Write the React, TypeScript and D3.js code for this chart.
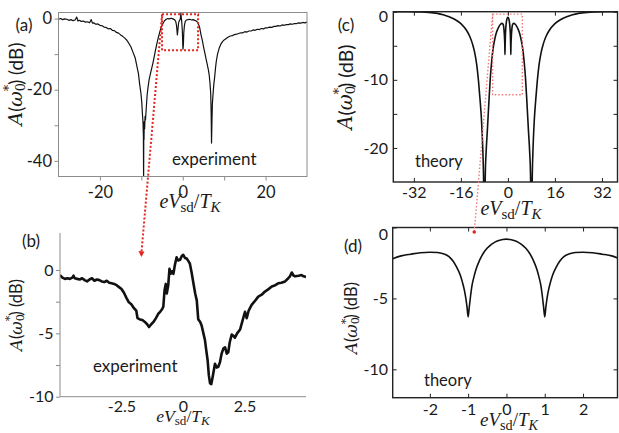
import { useEffect, useRef } from "react";
import * as d3 from "d3";

type Pt = [number, number];

// (a) measured spectrum over the full bias sweep  [eV/T_K, dB]
const expFull: Pt[] = [
  [-30, -0.2], [-29.5, 0.0], [-29, -0.3], [-28.5, -0.1], [-28, -0.2], [-27.5, -0.5], [-27, -0.3],
  [-26.5, -0.6], [-26, -0.4], [-25.6, 0.4], [-25.3, -0.7], [-25, -0.5], [-24.5, -0.8], [-24, -0.7],
  [-23.5, -1.0], [-23, -0.9], [-22.5, -1.2], [-22.1, -0.3], [-21.8, -1.3], [-21.5, -1.2], [-21, -1.6],
  [-20.5, -1.5], [-20, -1.9], [-19.5, -2.0], [-19, -2.4], [-18.5, -2.5], [-18, -2.9], [-17.5, -2.8],
  [-17, -3.3], [-16.5, -3.4], [-16, -3.9], [-15.5, -4.1], [-15, -4.6], [-14.5, -5.0], [-14, -5.5],
  [-13.5, -6.1], [-13, -7.0], [-12.5, -8.0], [-12, -9.5], [-11.5, -11.0], [-11, -13.8], [-10.7, -15.5],
  [-10.4, -18.5], [-10.1, -21.0], [-9.9, -23.5], [-9.7, -27.5], [-9.6, -29.0], [-9.5, -33.0],
  [-9.45, -46], [-9.4, -30.0], [-9.35, -34.0], [-9.3, -29.0], [-9.2, -31.0], [-9.1, -27.5],
  [-9.0, -28.5], [-8.8, -25.0], [-8.6, -21.5], [-8.4, -19.5], [-8.1, -17.0], [-7.8, -15.5],
  [-7.5, -14.0], [-7.2, -12.5], [-6.9, -10.8], [-6.6, -9.0], [-6.3, -7.3], [-6.0, -5.8], [-5.6, -4.0],
  [-5.2, -2.5], [-4.8, -1.4], [-4.4, -0.6], [-4.0, -0.2], [-3.6, 0.0], [-3.2, -0.1], [-2.8, 0.1],
  [-2.4, -0.1], [-2.0, -0.3], [-1.7, -0.8], [-1.5, -2.0], [-1.3, -4.6], [-1.15, -3.0], [-1.0, -1.2],
  [-0.8, -0.5], [-0.6, -0.2], [-0.45, 1.5], [-0.35, 0.3], [-0.25, -0.8], [-0.1, -3.5], [0.05, -8.6],
  [0.15, -7.5], [0.25, -4.0], [0.4, -2.0], [0.6, -0.8], [0.9, -0.4], [1.3, -0.3], [1.7, -0.2],
  [2.1, -0.4], [2.5, -0.3], [2.9, -0.5], [3.3, -0.7], [3.7, -1.2], [4.1, -2.6], [4.4, -4.5],
  [4.7, -6.0], [5.0, -7.8], [5.3, -9.5], [5.6, -11.2], [5.9, -12.8], [6.2, -14.5], [6.4, -16.0],
  [6.6, -18.5], [6.75, -21.0], [6.85, -26.0], [6.95, -35.0], [7.05, -29.0], [7.15, -24.0],
  [7.3, -21.5], [7.5, -18.5], [7.7, -16.5], [7.9, -14.0], [8.1, -12.0], [8.4, -10.0], [8.8, -8.3],
  [9.2, -7.2], [9.6, -6.5], [10, -6.0], [10.5, -5.6], [11, -5.2], [11.5, -4.9], [12, -4.8],
  [12.5, -4.5], [13, -4.4], [13.5, -4.2], [14, -4.0], [14.5, -4.0], [15, -3.7], [15.5, -3.8],
  [16, -3.5], [16.5, -3.5], [17, -3.2], [17.5, -3.3], [18, -3.0], [18.5, -3.1], [19, -2.8],
  [19.5, -2.9], [20, -2.6], [20.5, -2.6], [21, -2.4], [21.5, -2.5], [22, -2.2], [22.5, -2.2],
  [23, -2.0], [23.5, -2.1], [24, -1.8], [24.5, -1.9], [25, -1.7], [25.5, -1.7], [26, -1.5],
  [26.5, -1.6], [27, -1.4], [27.5, -1.4], [28, -1.2], [28.5, -1.3], [29, -1.1], [29.5, -1.2], [30, -1.0],
];

// (b) measured spectrum, close-up of the centre
const expZoom: Pt[] = [
  [-5.0, -0.4], [-4.9, -0.6], [-4.8, -0.7], [-4.7, -0.65], [-4.6, -0.7], [-4.5, -0.6], [-4.45, -0.45],
  [-4.4, -0.65], [-4.3, -0.7], [-4.2, -0.75], [-4.1, -0.65], [-4.0, -0.8], [-3.9, -0.9], [-3.8, -0.75],
  [-3.7, -0.65], [-3.6, -0.85], [-3.5, -0.75], [-3.4, -0.8], [-3.3, -0.9], [-3.2, -0.95], [-3.1, -0.85],
  [-3.0, -1.0], [-2.9, -1.05], [-2.8, -1.1], [-2.7, -1.2], [-2.6, -1.35], [-2.5, -1.5], [-2.4, -1.8],
  [-2.3, -2.2], [-2.2, -2.55], [-2.1, -2.7], [-2.0, -3.0], [-1.9, -3.2], [-1.85, -3.8], [-1.75, -3.9],
  [-1.65, -3.95], [-1.55, -4.1], [-1.45, -4.3], [-1.38, -4.5], [-1.3, -4.3], [-1.2, -4.1], [-1.1, -3.8],
  [-1.0, -3.45], [-0.93, -3.3], [-0.85, -3.1], [-0.8, -2.9], [-0.75, -1.6], [-0.7, -1.1], [-0.66, -1.85],
  [-0.6, -1.2], [-0.55, 0.1], [-0.5, -0.3], [-0.45, -0.1], [-0.39, -0.3], [-0.33, 0.4], [-0.26, 1.0],
  [-0.2, 0.75], [-0.12, 0.8], [-0.05, 1.1], [0.01, 1.2], [0.08, 0.95], [0.15, 0.9], [0.22, 0.7],
  [0.28, 0.5], [0.35, -0.2], [0.42, -1.0], [0.5, -1.9], [0.56, -2.4], [0.62, -3.9], [0.7, -4.1],
  [0.76, -4.4], [0.83, -5.0], [0.89, -5.5], [0.95, -6.4], [1.0, -7.1], [1.05, -8.3], [1.1, -8.95],
  [1.15, -9.0], [1.2, -8.5], [1.3, -7.4], [1.37, -7.7], [1.43, -7.65], [1.5, -7.3], [1.57, -6.6],
  [1.64, -6.2], [1.71, -6.1], [1.78, -6.6], [1.84, -6.5], [1.9, -5.7], [1.98, -5.1], [2.05, -5.2],
  [2.11, -5.35], [2.2, -5.0], [2.32, -4.7], [2.42, -4.0], [2.52, -3.3], [2.59, -3.8], [2.67, -3.2],
  [2.79, -2.75], [2.9, -2.5], [3.06, -2.1], [3.2, -1.95], [3.33, -1.7], [3.45, -1.55], [3.61, -1.3],
  [3.75, -1.2], [3.87, -1.05], [4.0, -1.0], [4.15, -0.9], [4.28, -0.65], [4.35, -0.5], [4.42, -0.2],
  [4.5, -0.45], [4.55, -0.5], [4.7, -0.45], [4.82, -0.4], [4.9, -0.5], [5.0, -0.55],
];

// (c) theory, full sweep
const theoFull: Pt[] = [
  [-39, 0], [-34, -0.01], [-30, -0.04], [-27, -0.1], [-24, -0.25], [-22, -0.45], [-20, -0.75],
  [-18, -1.15], [-16, -1.75], [-14, -2.8], [-13, -3.6], [-12, -4.8], [-11.3, -6], [-10.6, -7.8],
  [-10, -10.2], [-9.5, -12.8], [-9, -15.8], [-8.6, -19.5], [-8.3, -24], [-8.0, -34], [-7.7, -24],
  [-7.4, -20.5], [-7.0, -17.5], [-6.5, -13.5], [-6.0, -9.8], [-5.5, -7.2], [-5.0, -5.3], [-4.5, -4.1],
  [-4.0, -3.2], [-3.5, -2.6], [-3.0, -2.15], [-2.5, -1.85], [-2.0, -1.72], [-1.7, -1.8], [-1.5, -2.05],
  [-1.3, -2.8], [-1.15, -3.85], [-1.05, -5.0], [-1.0, -6.3], [-0.95, -5.1], [-0.85, -3.5], [-0.7, -2.3],
  [-0.5, -1.45], [-0.3, -1.03], [0, -0.82], [0.3, -1.03], [0.5, -1.45], [0.7, -2.3], [0.85, -3.5],
  [0.95, -5.1], [1.0, -6.3], [1.05, -5.0], [1.15, -3.85], [1.3, -2.8], [1.5, -2.05], [1.7, -1.8],
  [2.0, -1.72], [2.5, -1.85], [3.0, -2.15], [3.5, -2.6], [4.0, -3.2], [4.5, -4.1], [5.0, -5.3],
  [5.5, -7.2], [6.0, -9.8], [6.5, -13.5], [7.0, -17.5], [7.4, -20.5], [7.7, -24], [8.0, -34],
  [8.3, -24], [8.6, -19.5], [9, -15.8], [9.5, -12.8], [10, -10.2], [10.6, -7.8], [11.3, -6],
  [12, -4.8], [13, -3.6], [14, -2.8], [16, -1.75], [18, -1.15], [20, -0.75], [22, -0.45], [24, -0.25],
  [27, -0.1], [30, -0.04], [34, -0.01], [37.3, 0],
];

// (d) theory, close-up
const theoZoom: Pt[] = [
  [-2.97, -2.2], [-2.75, -2.0], [-2.5, -1.88], [-2.25, -1.78], [-2.0, -1.74], [-1.8, -1.76],
  [-1.65, -1.85], [-1.5, -2.05], [-1.4, -2.35], [-1.3, -2.8], [-1.2, -3.4], [-1.15, -3.85],
  [-1.1, -4.4], [-1.06, -5.0], [-1.03, -5.6], [-1.0, -6.3], [-0.97, -5.6], [-0.94, -4.9], [-0.9, -4.1],
  [-0.85, -3.5], [-0.8, -3.0], [-0.7, -2.3], [-0.6, -1.8], [-0.5, -1.45], [-0.4, -1.2], [-0.3, -1.03],
  [-0.2, -0.92], [-0.1, -0.85], [0, -0.82], [0.1, -0.85], [0.2, -0.92], [0.3, -1.03], [0.4, -1.2],
  [0.5, -1.45], [0.6, -1.8], [0.7, -2.3], [0.8, -3.0], [0.85, -3.5], [0.9, -4.1], [0.94, -4.9],
  [0.97, -5.6], [1.0, -6.3], [1.03, -5.6], [1.06, -5.0], [1.1, -4.4], [1.15, -3.85], [1.2, -3.4],
  [1.3, -2.8], [1.4, -2.35], [1.5, -2.05], [1.65, -1.85], [1.8, -1.76], [2.0, -1.74], [2.25, -1.78],
  [2.5, -1.88], [2.75, -2.0], [2.9, -2.15],
];

// ticks: labelled values and all tick marks
const aXLabels = [-20, 0, 20];
const aXTicks = [-20, -10, 0, 10, 20];
const aYLabels = [0, -20, -40];
const aYTicks = [0, -10, -20, -30, -40];
const bXLabels = [-2.5, 0, 2.5];
const bYLabels = [0, -5, -10];
const bYTicks = [0, -2.5, -5, -7.5, -10];
const cXLabels = [-32, -16, 0, 16, 32];
const cYLabels = [0, -10, -20];
const cYTicks = [0, -5, -10, -15, -20];
const dXLabels = [-2, -1, 0, 1, 2];
const dYLabels = [0, -5, -10];

// zoom call-outs, in data units of the panel they sit in
const boxA = { x0: -5, x1: 3.7, y0: 1.2, y1: -8.9 };
const arrowTipB: Pt = [-1.69, 1.1];
const boxC = { x0: -5.2, x1: 4.9, y0: -0.35, y1: -12.2 };
const dotTipD: Pt = [-0.84, -0.32];

const SANS = "Lato, 'Open Sans', sans-serif";
const SERIF = "'Liberation Serif', 'DejaVu Serif', serif";
const MATH = "'DejaVu Serif', serif";

function yTitle(g: any, x: number, y: number, s: number) {
  const t = g.append("text")
    .attr("transform", `translate(${x},${y}) rotate(-90)`)
    .attr("text-anchor", "middle")
    .attr("dominant-baseline", "central")
    .attr("font-family", SANS).attr("font-size", s).attr("fill", "#1a1a1a");
  t.append("tspan").attr("font-family", MATH).attr("font-style", "italic").text("A");
  t.append("tspan").text("(");
  t.append("tspan").attr("font-family", MATH).attr("font-style", "italic").text("ω");
  t.append("tspan").attr("font-family", MATH).attr("font-size", s * 0.68).attr("dy", s * 0.25).text("0");
  t.append("tspan").attr("font-family", MATH).attr("font-size", s * 0.68).attr("dx", -s * 0.44).attr("dy", -s * 0.62).text("*");
  t.append("tspan").attr("dy", s * 0.37).text(")");
  t.append("tspan").text(" (dB)");
}

function xTitle(g: any, x: number, y: number, s: number) {
  const t = g.append("text")
    .attr("x", x).attr("y", y)
    .attr("text-anchor", "middle")
    .attr("font-family", SERIF).attr("font-size", s).attr("fill", "#1a1a1a");
  t.append("tspan").attr("font-style", "italic").text("eV");
  t.append("tspan").attr("font-size", s * 0.75).attr("dy", s * 0.22).text("sd");
  t.append("tspan").attr("dy", -s * 0.22).text("/");
  t.append("tspan").attr("font-style", "italic").text("T");
  t.append("tspan").attr("font-style", "italic").attr("font-size", s * 0.75).attr("dy", s * 0.22).text("K");
}

function drawPanel(svg: any, p: any) {
  const x = d3.scaleLinear().domain(p.xDom).range([p.l, p.r]);
  const y = d3.scaleLinear().domain(p.yDom).range([p.b, p.t]);
  const g = svg.append("g");
  const clipId = "clip-panel-" + p.id;

  g.append("clipPath").attr("id", clipId)
    .append("rect").attr("x", p.l).attr("y", p.t).attr("width", p.r - p.l).attr("height", p.b - p.t);

  const line = d3.line<Pt>().x(d => x(d[0])).y(d => y(d[1])).curve(p.smooth ? d3.curveMonotoneX : d3.curveLinear);
  g.append("path")
    .attr("d", line(p.data))
    .attr("fill", "none")
    .attr("stroke", "#111")
    .attr("stroke-width", p.lineW)
    .attr("stroke-linejoin", "round")
    .attr("clip-path", `url(#${clipId})`);

  const tick = p.inward ? -4 : 4;
  const fmt = (labels: number[]) => (d: any) => (labels.includes(d) ? String(d) : "");

  g.append("g").attr("transform", `translate(0,${p.b})`)
    .call(d3.axisBottom(x).tickValues(p.xTicks).tickSizeInner(p.xTickLen ?? tick).tickSizeOuter(0)
      .tickPadding(p.xPad).tickFormat(fmt(p.xLabels)));
  const gy = g.append("g").attr("transform", `translate(${p.l},0)`)
    .call(d3.axisLeft(y).tickValues(p.yTicks).tickSizeInner(tick).tickSizeOuter(0)
      .tickPadding(p.yPad).tickFormat(fmt(p.yLabels)));
  if (p.inward) {
    g.append("g").attr("transform", `translate(${p.r},0)`)
      .call(d3.axisRight(y).tickValues(p.yTicks).tickSizeInner(-4).tickSizeOuter(0).tickFormat(() => ""));
    g.append("g").attr("transform", `translate(0,${p.t})`)
      .call(d3.axisTop(x).tickValues(p.xTicks).tickSizeInner(-4).tickSizeOuter(0).tickFormat(() => ""));
  }
  g.selectAll(".domain").remove();
  g.selectAll(".tick line").attr("stroke", p.frameColor).attr("stroke-width", 1);
  g.selectAll(".tick text").attr("font-family", SANS).attr("font-size", p.tickFont).attr("fill", "#1a1a1a");
  gy.selectAll(".tick text").filter((d: any) => d === 0).attr("dy", p.zeroDy);

  // frame
  if (p.fullBox) {
    g.append("rect").attr("x", p.l).attr("y", p.t).attr("width", p.r - p.l).attr("height", p.b - p.t)
      .attr("fill", "none").attr("stroke", p.frameColor).attr("stroke-width", p.frameW);
  } else {
    g.append("path").attr("d", `M${p.l},${p.t}V${p.b}H${p.r}`)
      .attr("fill", "none").attr("stroke", p.frameColor).attr("stroke-width", p.frameW);
  }

  g.append("text").attr("x", p.tagPos[0]).attr("y", p.tagPos[1]).attr("text-anchor", "middle")
    .attr("font-family", SANS).attr("font-size", 17).attr("fill", "#1a1a1a").text(p.tag);
  g.append("text").attr("x", p.notePos[0]).attr("y", p.notePos[1])
    .attr("font-family", SANS).attr("font-size", p.noteFont).attr("fill", "#1a1a1a").text(p.note);

  yTitle(g, p.yTitlePos[0], p.yTitlePos[1], p.yTitleFont);
  xTitle(g, p.xTitlePos[0], p.xTitlePos[1], p.xTitleFont);
  return { x, y };
}

const panelA = {
  id: "a", tag: "(a)", note: "experiment", data: expFull, smooth: false, lineW: 1.2,
  l: 58.5, r: 307, t: 12.5, b: 176.5, xDom: [-30, 30], yDom: [-44.4, 1.7],
  xTicks: aXTicks, xLabels: aXLabels, yTicks: aYTicks, yLabels: aYLabels,
  inward: false, xPad: 5.5, yPad: 2.5, tickFont: 16.5, zeroDy: "0.32em",
  frameColor: "#8c8c8c", frameW: 1, fullBox: true,
  tagPos: [24, 30.5], notePos: [172, 165], noteFont: 17,
  yTitlePos: [15, 84], yTitleFont: 19, xTitlePos: [190, 208], xTitleFont: 20,
};
const panelB = {
  id: "b", tag: "(b)", note: "experiment", data: expZoom, smooth: false, lineW: 2.6,
  l: 60, r: 306, t: 233, b: 396.7, xDom: [-5, 5], yDom: [-10, 2.92],
  xTicks: bXLabels, xLabels: bXLabels, xTickLen: 0, yTicks: bYTicks, yLabels: bYLabels,
  inward: false, xPad: 3.5, yPad: 2.5, tickFont: 16, zeroDy: "0.32em",
  frameColor: "#8c8c8c", frameW: 1, fullBox: false,
  tagPos: [31, 247], notePos: [93, 372], noteFont: 17,
  yTitlePos: [15.5, 315], yTitleFont: 16.5, xTitlePos: [183, 421.5], xTitleFont: 17.5,
};
const panelC = {
  id: "c", tag: "(c)", note: "theory", data: theoFull, smooth: true, lineW: 1.6,
  l: 393.3, r: 617.5, t: 11.7, b: 182, xDom: [-39, 37.3], yDom: [-25, 0],
  xTicks: cXLabels, xLabels: cXLabels, yTicks: cYTicks, yLabels: cYLabels,
  inward: true, xPad: 4.5, yPad: 5.3, tickFont: 16, zeroDy: "0.62em",
  frameColor: "#222", frameW: 1.4, fullBox: true,
  tagPos: [346, 31], notePos: [415, 166.5], noteFont: 16.5,
  yTitlePos: [345, 87], yTitleFont: 19.5, xTitlePos: [511, 215], xTitleFont: 20,
};
const panelD = {
  id: "d", tag: "(d)", note: "theory", data: theoZoom, smooth: true, lineW: 1.6,
  l: 392.7, r: 617.5, t: 227.5, b: 397.7, xDom: [-2.97, 2.9], yDom: [-12, 0],
  xTicks: dXLabels, xLabels: dXLabels, yTicks: dYLabels, yLabels: dYLabels,
  inward: true, xPad: 5.5, yPad: 4.7, tickFont: 16, zeroDy: "0.72em",
  frameColor: "#222", frameW: 1.4, fullBox: true,
  tagPos: [353, 252], notePos: [424, 386], noteFont: 16.5,
  yTitlePos: [351, 318], yTitleFont: 16.5, xTitlePos: [509, 426], xTitleFont: 19,
};

export default function App() {
  const svgRef = useRef<SVGSVGElement>(null);

  useEffect(() => {
    if (!svgRef.current) return;
    const svg = d3.select(svgRef.current);
    svg.selectAll("*").remove();

    const sa = drawPanel(svg, panelA);
    const sb = drawPanel(svg, panelB);
    const sc = drawPanel(svg, panelC);
    const sd = drawPanel(svg, panelD);

    // red dotted call-outs
    const red = "#e3261f";
    const pink = "#f07a7a";
    svg.append("rect")
      .attr("x", sa.x(boxA.x0)).attr("y", sa.y(boxA.y0))
      .attr("width", sa.x(boxA.x1) - sa.x(boxA.x0)).attr("height", sa.y(boxA.y1) - sa.y(boxA.y0))
      .attr("fill", "none").attr("stroke", red).attr("stroke-width", 2).attr("stroke-dasharray", "2,2");
    const ax = sb.x(arrowTipB[0]), ay = sb.y(arrowTipB[1]);
    svg.append("line")
      .attr("x1", sa.x(boxA.x0)).attr("y1", sa.y(boxA.y0)).attr("x2", ax).attr("y2", ay - 3)
      .attr("stroke", red).attr("stroke-width", 2).attr("stroke-dasharray", "2,2");
    svg.append("path").attr("d", `M${ax - 3},${ay - 5}L${ax + 3},${ay - 4.5}L${ax},${ay + 1}Z`).attr("fill", red);

    svg.append("rect")
      .attr("x", sc.x(boxC.x0)).attr("y", sc.y(boxC.y0))
      .attr("width", sc.x(boxC.x1) - sc.x(boxC.x0)).attr("height", sc.y(boxC.y1) - sc.y(boxC.y0))
      .attr("fill", "none").attr("stroke", pink).attr("stroke-width", 1.4).attr("stroke-dasharray", "1.5,2");
    const dx = sd.x(dotTipD[0]), dy = sd.y(dotTipD[1]);
    svg.append("line")
      .attr("x1", sc.x(boxC.x0)).attr("y1", sc.y(boxC.y0)).attr("x2", dx).attr("y2", dy)
      .attr("stroke", pink).attr("stroke-width", 1.4).attr("stroke-dasharray", "1.5,2");
    svg.append("circle").attr("cx", dx).attr("cy", dy).attr("r", 1.8).attr("fill", red);
  }, []);

  return (
    <svg ref={svgRef} width={619} height={433}
      style={{ position: "absolute", left: 0, top: 0, background: "#fff" }} />
  );
}
